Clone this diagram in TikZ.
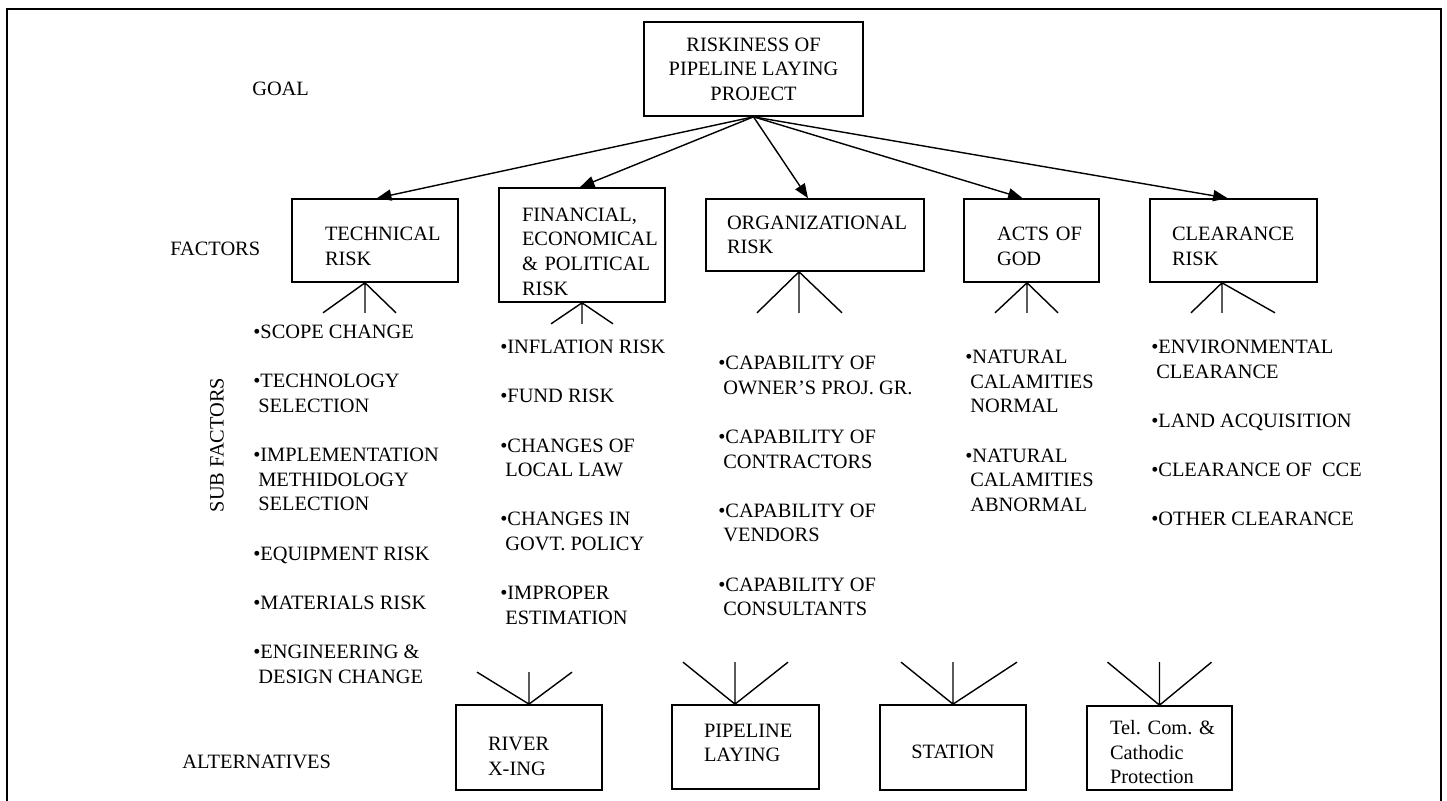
\documentclass[tikz,border=0pt]{standalone}
\usepackage{fontspec}
\setmainfont{Liberation Serif}
\usetikzlibrary{arrows.meta,calc}
\hyphenpenalty=10000
\exhyphenpenalty=10000

\tikzset{
  every node/.style={font=\fontsize{14.5}{17.5}\selectfont},
  riskbox/.style={draw, line width=1.2pt, align=left, inner ysep=0pt},
  level/.style={inner sep=0pt},
  sublist/.style={inner sep=0pt, anchor=north west, align=left},
  link/.style={line width=1pt, -{Triangle[length=0.36cm,width=0.28cm]}},
  fork/.style={line width=1pt},
}
\newcommand{\gap}{\\[17.5pt]}
\newcommand{\ind}{\hspace*{3.6pt}}

\begin{document}
\begin{tikzpicture}
  \useasboundingbox (0,0) rectangle (36.175,20);
  % frame, open at the bottom edge
  \draw[line width=1.2pt] (0.175,-0.1) |- (36.025,19.775) -- (36.025,-0.1);

  % level labels
  \node[level, anchor=west] (goallbl) at (6.3,17.775) {GOAL};
  \node[level, anchor=west] (factlbl) at (4.25,13.775) {FACTORS};
  \node[level, rotate=90] (sublbl) at (5.425,8.875) {SUB FACTORS};
  \node[level, anchor=west] (altlbl) at (4.55,0.95) {ALTERNATIVES};

  % goal and factors
  \node[riskbox, align=center, minimum width=5.475cm, minimum height=2.35cm] (goal) at (18.838,18.275) {RISKINESS OF\\PIPELINE LAYING\\PROJECT};
  \node[riskbox, minimum height=2.075cm, text width=2.5cm, inner xsep=0.825cm, text height=18.2pt] (tech) at (9.375,13.988) {TECHNICAL\\RISK};
  \node[riskbox, minimum height=2.85cm, text width=3cm, inner xsep=0.575cm, text height=18.8pt] (fin) at (14.55,13.875) {FINANCIAL,\\ECONOMICAL\\\&~POLITICAL\\RISK};
  \node[riskbox, minimum height=1.8cm, text width=4.4cm, inner xsep=0.525cm] (org) at (20.375,14.125) {ORGANIZATIONAL\\RISK};
  \node[riskbox, minimum height=2.075cm, text width=1.725cm, inner xsep=0.825cm, text height=18.2pt] (acts) at (25.788,13.988) {ACTS~OF\\GOD};
  \node[riskbox, minimum height=2.075cm, text width=3.075cm, inner xsep=0.55cm, text height=18.2pt] (clear) at (30.838,13.988) {CLEARANCE\\RISK};

  \foreach \nm/\sx in {tech/0.05, fin/-0.05, org/-0.175, acts/-0.225, clear/-0.15}
    \draw[link] (goal.south) -- ($(\nm.north)+(\sx,0)$);

  % sub factors
  \node[sublist] (techsub) at (6.325,11.875) {\textbullet SCOPE CHANGE\gap
    \textbullet TECHNOLOGY\\ \ind SELECTION\gap
    \textbullet IMPLEMENTATION\\ \ind METHIDOLOGY\\ \ind SELECTION\gap
    \textbullet EQUIPMENT RISK\gap
    \textbullet MATERIALS RISK\gap
    \textbullet ENGINEERING \&\\ \ind DESIGN CHANGE};
  \node[sublist] (finsub) at (12.5,11.5) {\textbullet INFLATION RISK\gap
    \textbullet FUND RISK\gap
    \textbullet CHANGES OF\\ \ind LOCAL LAW\gap
    \textbullet CHANGES IN\\ \ind GOVT. POLICY\gap
    \textbullet IMPROPER\\ \ind ESTIMATION};
  \node[sublist] (orgsub) at (17.95,11.1) {\textbullet CAPABILITY OF\\ \ind OWNER'S PROJ. GR.\gap
    \textbullet CAPABILITY OF\\ \ind CONTRACTORS\gap
    \textbullet CAPABILITY OF\\ \ind VENDORS\gap
    \textbullet CAPABILITY OF\\ \ind CONSULTANTS};
  \node[sublist] (actssub) at (24.125,11.25) {\textbullet NATURAL\\ \ind CALAMITIES\\ \ind NORMAL\gap
    \textbullet NATURAL\\ \ind CALAMITIES\\ \ind ABNORMAL};
  \node[sublist] (clearsub) at (28.775,11.5) {\textbullet ENVIRONMENTAL\\ \ind CLEARANCE\gap
    \textbullet LAND ACQUISITION\gap
    \textbullet CLEARANCE OF\ \ CCE\gap
    \textbullet OTHER CLEARANCE};

  \foreach \nm/\sx/\lx/\rx/\dy in {tech/-0.25/-1.05/0.775/0.75, fin/0/-0.775/0.775/0.525,
      org/-0.4/-1.05/1.075/1.025, acts/-0.113/-0.8/0.775/0.75, clear/-0.288/-0.775/1.325/0.75}
    \draw[fork] ($(\nm.south)+(\sx,0)$) coordinate (\nm-a) +(\lx,-\dy) -- (\nm-a) -- +(0,-\dy) (\nm-a) -- +(\rx,-\dy);

  % alternatives
  \node[riskbox, minimum height=2.125cm, text width=2.05cm, inner xsep=0.8cm, text height=22.4pt] (river) at (13.225,1.313) {RIVER\\X-ING};
  \node[riskbox, minimum height=2.1cm, text width=2.075cm, inner xsep=0.8cm, text height=3.9pt] (pipe) at (18.638,1.325) {PIPELINE\\LAYING};
  \node[riskbox, align=center, minimum width=3.65cm, minimum height=2.125cm, text height=15.3pt] (station) at (23.825,1.313) {STATION};
  \node[riskbox, minimum height=2.1cm, text width=2.475cm, inner xsep=0.575cm, text height=16.3pt] (tel) at (28.988,1.3) {Tel.~Com.~\&\\Cathodic\\Protection};

  \foreach \nm/\sx/\lx/\rx/\dy in {river/0/-1.3/1.075/0.8, pipe/-0.263/-1.3/1.325/1.05,
      station/0/-1.3/1.6/1.05, tel/0/-1.3/1.3/1.075}
    \draw[fork] ($(\nm.north)+(\sx,0)$) coordinate (\nm-a) +(\lx,\dy) -- (\nm-a) -- +(0,\dy) (\nm-a) -- +(\rx,\dy);
\end{tikzpicture}
\end{document}
